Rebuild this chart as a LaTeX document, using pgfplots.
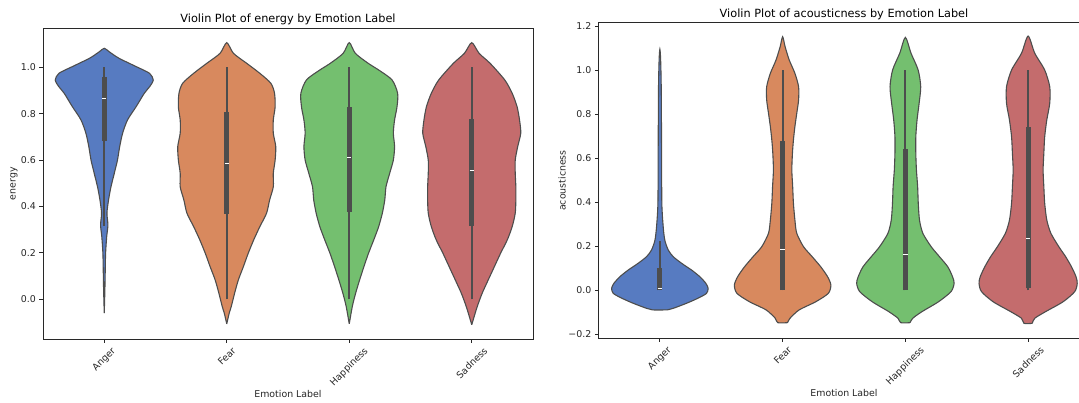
\documentclass[border=0pt]{standalone}
\usepackage{fontspec}
\setmainfont{DejaVu Sans}
\usepackage{graphicx}
\usepackage{pgfplots}
\pgfplotsset{compat=1.18}

\definecolor{vblue}{RGB}{87,123,193}
\definecolor{vorange}{RGB}{216,137,94}
\definecolor{vgreen}{RGB}{116,191,111}
\definecolor{vred}{RGB}{196,108,109}
\definecolor{vline}{RGB}{77,77,77}
\definecolor{spine}{RGB}{40,40,40}

\pgfplotsset{
  vio/.style={draw=vline, line width=1.1pt, fill=#1, smooth, tension=0.45},
  common/.style={
    scale only axis, anchor=south west,
    xmin=-0.5, xmax=3.5,
    xtick={0,1,2,3},
    xticklabels={\rotatebox{45}{Anger},\rotatebox{45}{Fear},\rotatebox{45}{Happiness},\rotatebox{45}{Sadness}},
    xtick pos=bottom, ytick pos=left, tick align=outside,
    major tick length=3.5pt,
    tick style={draw=spine, line width=0.8pt},
    axis line style={draw=spine, line width=0.8pt},
    tick label style={font=\fontsize{9.4}{10}\selectfont, text=black!85},
    label style={font=\fontsize{9.4}{10}\selectfont, text=black!85},
    every axis title shift=0pt,
    title style={font=\fontsize{11.3}{12}\selectfont, at={(axis description cs:0.5,1)}, anchor=base, yshift=5.5pt},
    xlabel={Emotion Label},
    xlabel style={at={(axis description cs:0.5,0)}, anchor=center, yshift=-55pt},
    x tick label style={anchor=north, inner sep=0pt, yshift=-3.5pt},
    y tick label style={anchor=east, inner sep=0pt, xshift=-3.5pt},
  },
}
\newcommand{\innerbox}[8]{% center, wlo, whi, qlo, qhi, medleft, medright, med
  \addplot[vline, line width=1.9pt] coordinates {(#1,#2) (#1,#3)};
  \addplot[vline, line width=5.2pt] coordinates {(#1,#4) (#1,#5)};
  \addplot[white, line width=0.9pt] coordinates {(#6,#8) (#7,#8)};
}

\begin{document}
\begin{tikzpicture}
\path[use as bounding box] (0,0) rectangle (1079pt,403pt);

% ---------------- energy ----------------
\begin{axis}[common,
  at={(43pt,63.7pt)}, width=490pt, height=311pt,
  ymin=-0.1724, ymax=1.168,
  ytick={0,0.2,0.4,0.6,0.8,1.0},
  yticklabels={0.0,0.2,0.4,0.6,0.8,1.0},
  title={Violin Plot of energy by Emotion Label},
  ylabel={energy},
  ylabel style={at={(axis description cs:-0.0592,0.5)}, anchor=center},
]
% Anger
\addplot[vio=vblue] table[row sep=\\, x expr=0+\thisrow{dx}, y=y] {
dx y\\
0 -0.060\\ 0.005 0.036\\ 0.008 0.120\\ 0.011 0.198\\ 0.020 0.270\\ 0.030 0.320\\ 0.022 0.371\\
0.035 0.428\\ 0.055 0.485\\ 0.082 0.543\\ 0.108 0.600\\ 0.126 0.658\\ 0.150 0.716\\ 0.190 0.773\\
0.260 0.830\\ 0.327 0.888\\ 0.370 0.916\\ 0.400 0.945\\ 0.370 0.974\\ 0.260 1.003\\ 0.120 1.039\\
0.040 1.067\\ 0 1.082\\
-0.040 1.067\\ -0.120 1.039\\ -0.260 1.003\\ -0.370 0.974\\ -0.400 0.945\\ -0.370 0.916\\ -0.327 0.888\\
-0.260 0.830\\ -0.190 0.773\\ -0.150 0.716\\ -0.126 0.658\\ -0.108 0.600\\ -0.082 0.543\\ -0.055 0.485\\
-0.035 0.428\\ -0.022 0.371\\ -0.030 0.320\\ -0.020 0.270\\ -0.011 0.198\\ -0.008 0.120\\ -0.005 0.036\\
0 -0.060\\
};
% Fear
\addplot[vio=vorange] table[row sep=\\, x expr=1+\thisrow{dx}, y=y] {
dx y\\
0 -0.106\\ 0.020 -0.060\\ 0.037 -0.031\\ 0.064 0.026\\ 0.095 0.084\\ 0.136 0.141\\ 0.175 0.198\\
0.220 0.256\\ 0.270 0.313\\ 0.325 0.371\\ 0.350 0.428\\ 0.380 0.485\\ 0.380 0.543\\ 0.395 0.600\\
0.400 0.658\\ 0.380 0.716\\ 0.380 0.773\\ 0.395 0.830\\ 0.390 0.888\\ 0.360 0.931\\ 0.270 0.974\\
0.163 1.017\\ 0.055 1.060\\ 0 1.106\\
-0.055 1.060\\ -0.163 1.017\\ -0.270 0.974\\ -0.360 0.931\\ -0.390 0.888\\ -0.395 0.830\\ -0.380 0.773\\
-0.380 0.716\\ -0.400 0.658\\ -0.395 0.600\\ -0.380 0.543\\ -0.380 0.485\\ -0.350 0.428\\ -0.325 0.371\\
-0.270 0.313\\ -0.220 0.256\\ -0.175 0.198\\ -0.136 0.141\\ -0.095 0.084\\ -0.064 0.026\\ -0.037 -0.031\\
-0.020 -0.060\\ 0 -0.106\\
};
% Happiness
\addplot[vio=vgreen] table[row sep=\\, x expr=2+\thisrow{dx}, y=y] {
dx y\\
0 -0.106\\ 0.025 -0.031\\ 0.052 0.026\\ 0.085 0.084\\ 0.120 0.141\\ 0.157 0.198\\ 0.200 0.256\\
0.240 0.313\\ 0.270 0.371\\ 0.290 0.428\\ 0.300 0.485\\ 0.330 0.543\\ 0.360 0.600\\ 0.370 0.658\\
0.360 0.716\\ 0.370 0.773\\ 0.390 0.830\\ 0.395 0.888\\ 0.350 0.945\\ 0.250 0.985\\ 0.155 1.017\\
0.050 1.060\\ 0 1.106\\
-0.050 1.060\\ -0.155 1.017\\ -0.250 0.985\\ -0.350 0.945\\ -0.395 0.888\\ -0.390 0.830\\ -0.370 0.773\\
-0.360 0.716\\ -0.370 0.658\\ -0.360 0.600\\ -0.330 0.543\\ -0.300 0.485\\ -0.290 0.428\\ -0.270 0.371\\
-0.240 0.313\\ -0.200 0.256\\ -0.157 0.198\\ -0.120 0.141\\ -0.085 0.084\\ -0.052 0.026\\ -0.025 -0.031\\
0 -0.106\\
};
% Sadness
\addplot[vio=vred] table[row sep=\\, x expr=3+\thisrow{dx}, y=y] {
dx y\\
0 -0.110\\ 0.020 -0.074\\ 0.045 -0.031\\ 0.085 0.026\\ 0.135 0.084\\ 0.185 0.141\\ 0.235 0.198\\
0.290 0.256\\ 0.330 0.313\\ 0.355 0.371\\ 0.360 0.428\\ 0.360 0.485\\ 0.355 0.543\\ 0.355 0.600\\
0.375 0.658\\ 0.400 0.716\\ 0.390 0.773\\ 0.370 0.830\\ 0.330 0.888\\ 0.270 0.945\\ 0.150 1.017\\
0.060 1.060\\ 0 1.106\\
-0.060 1.060\\ -0.150 1.017\\ -0.270 0.945\\ -0.330 0.888\\ -0.370 0.830\\ -0.390 0.773\\ -0.400 0.716\\
-0.375 0.658\\ -0.355 0.600\\ -0.355 0.543\\ -0.360 0.485\\ -0.360 0.428\\ -0.355 0.371\\ -0.330 0.313\\
-0.290 0.256\\ -0.235 0.198\\ -0.185 0.141\\ -0.135 0.084\\ -0.085 0.026\\ -0.045 -0.031\\ -0.020 -0.074\\
0 -0.110\\
};
\innerbox{0}{0.316}{1.0}{0.684}{0.957}{-0.018}{0.018}{0.866}
\innerbox{1}{0.0}{1.0}{0.368}{0.806}{0.982}{1.018}{0.585}
\innerbox{2}{0.0}{1.0}{0.378}{0.828}{1.982}{2.018}{0.610}
\innerbox{3}{0.0}{1.0}{0.317}{0.776}{2.982}{3.018}{0.556}
\end{axis}

% ---------------- acousticness ----------------
\begin{axis}[common,
  at={(598.5pt,64.7pt)}, width=491pt, height=315.6pt,
  ymin=-0.2179, ymax=1.2147,
  ytick={-0.2,0,0.2,0.4,0.6,0.8,1.0,1.2},
  yticklabels={−0.2,0.0,0.2,0.4,0.6,0.8,1.0,1.2},
  title={Violin Plot of acousticness by Emotion Label},
  ylabel={acousticness},
  ylabel style={at={(axis description cs:-0.0743,0.5)}, anchor=center},
]
% Anger
\addplot[vio=vblue] table[row sep=\\, x expr=0+\thisrow{dx}, y=y] {
dx y\\
0.060 -0.089\\ 0.108 -0.082\\ 0.217 -0.059\\ 0.310 -0.036\\ 0.380 -0.014\\ 0.393 0.009\\ 0.374 0.032\\
0.325 0.062\\ 0.258 0.092\\ 0.176 0.123\\ 0.108 0.153\\ 0.068 0.183\\ 0.040 0.228\\ 0.027 0.289\\
0.016 0.395\\ 0.014 0.622\\ 0.011 0.924\\ 0.006 1.050\\ 0 1.094\\
-0.006 1.050\\ -0.011 0.924\\ -0.014 0.622\\ -0.016 0.395\\ -0.027 0.289\\ -0.040 0.228\\ -0.068 0.183\\
-0.108 0.153\\ -0.176 0.123\\ -0.258 0.092\\ -0.325 0.062\\ -0.374 0.032\\ -0.393 0.009\\ -0.380 -0.014\\
-0.310 -0.036\\ -0.217 -0.059\\ -0.108 -0.082\\ -0.060 -0.089\\ 0.060 -0.089\\
};
% Fear
\addplot[vio=vorange] table[row sep=\\, x expr=1+\thisrow{dx}, y=y] {
dx y\\
0.040 -0.147\\ 0.060 -0.127\\ 0.135 -0.089\\ 0.270 -0.052\\ 0.372 -0.014\\ 0.393 0.024\\ 0.366 0.062\\
0.310 0.107\\ 0.240 0.153\\ 0.170 0.198\\ 0.115 0.259\\ 0.100 0.319\\ 0.088 0.395\\ 0.082 0.470\\
0.075 0.546\\ 0.080 0.622\\ 0.088 0.682\\ 0.100 0.743\\ 0.115 0.803\\ 0.130 0.864\\ 0.130 0.924\\
0.100 0.985\\ 0.054 1.045\\ 0.020 1.106\\ 0 1.151\\
-0.020 1.106\\ -0.054 1.045\\ -0.100 0.985\\ -0.130 0.924\\ -0.130 0.864\\ -0.115 0.803\\ -0.100 0.743\\
-0.088 0.682\\ -0.080 0.622\\ -0.075 0.546\\ -0.082 0.470\\ -0.088 0.395\\ -0.100 0.319\\ -0.115 0.259\\
-0.170 0.198\\ -0.240 0.153\\ -0.310 0.107\\ -0.366 0.062\\ -0.393 0.024\\ -0.372 -0.014\\ -0.270 -0.052\\
-0.135 -0.089\\ -0.060 -0.127\\ -0.040 -0.147\\ 0.040 -0.147\\
};
% Happiness
\addplot[vio=vgreen] table[row sep=\\, x expr=2+\thisrow{dx}, y=y] {
dx y\\
0.038 -0.147\\ 0.060 -0.127\\ 0.135 -0.097\\ 0.270 -0.052\\ 0.372 -0.006\\ 0.397 0.032\\ 0.384 0.062\\
0.345 0.107\\ 0.277 0.153\\ 0.210 0.198\\ 0.142 0.259\\ 0.115 0.319\\ 0.105 0.395\\ 0.100 0.470\\
0.090 0.546\\ 0.085 0.622\\ 0.085 0.697\\ 0.095 0.773\\ 0.112 0.849\\ 0.125 0.924\\ 0.104 1.000\\
0.046 1.076\\ 0 1.148\\
-0.046 1.076\\ -0.104 1.000\\ -0.125 0.924\\ -0.112 0.849\\ -0.095 0.773\\ -0.085 0.697\\ -0.085 0.622\\
-0.090 0.546\\ -0.100 0.470\\ -0.105 0.395\\ -0.115 0.319\\ -0.142 0.259\\ -0.210 0.198\\ -0.277 0.153\\
-0.345 0.107\\ -0.384 0.062\\ -0.397 0.032\\ -0.372 -0.006\\ -0.270 -0.052\\ -0.135 -0.097\\ -0.060 -0.127\\
-0.038 -0.147\\ 0.038 -0.147\\
};
% Sadness
\addplot[vio=vred] table[row sep=\\, x expr=3+\thisrow{dx}, y=y] {
dx y\\
0.034 -0.150\\ 0.054 -0.127\\ 0.142 -0.097\\ 0.285 -0.052\\ 0.380 -0.006\\ 0.400 0.032\\ 0.390 0.062\\
0.353 0.107\\ 0.305 0.153\\ 0.250 0.198\\ 0.185 0.259\\ 0.152 0.319\\ 0.135 0.395\\ 0.128 0.470\\
0.122 0.546\\ 0.128 0.622\\ 0.135 0.697\\ 0.152 0.773\\ 0.176 0.849\\ 0.176 0.924\\ 0.135 1.000\\
0.054 1.076\\ 0 1.154\\
-0.054 1.076\\ -0.135 1.000\\ -0.176 0.924\\ -0.176 0.849\\ -0.152 0.773\\ -0.135 0.697\\ -0.128 0.622\\
-0.122 0.546\\ -0.128 0.470\\ -0.135 0.395\\ -0.152 0.319\\ -0.185 0.259\\ -0.250 0.198\\ -0.305 0.153\\
-0.353 0.107\\ -0.390 0.062\\ -0.400 0.032\\ -0.380 -0.006\\ -0.285 -0.052\\ -0.142 -0.097\\ -0.054 -0.127\\
-0.034 -0.150\\ 0.034 -0.150\\
};
\innerbox{0}{0.0}{0.225}{0.0}{0.100}{-0.018}{0.018}{0.009}
\innerbox{1}{0.0}{1.0}{0.001}{0.678}{0.982}{1.018}{0.186}
\innerbox{2}{0.0}{1.0}{0.0}{0.640}{1.982}{2.018}{0.163}
\innerbox{3}{0.0}{1.0}{0.009}{0.740}{2.982}{3.018}{0.236}
\end{axis}
\end{tikzpicture}
\end{document}
